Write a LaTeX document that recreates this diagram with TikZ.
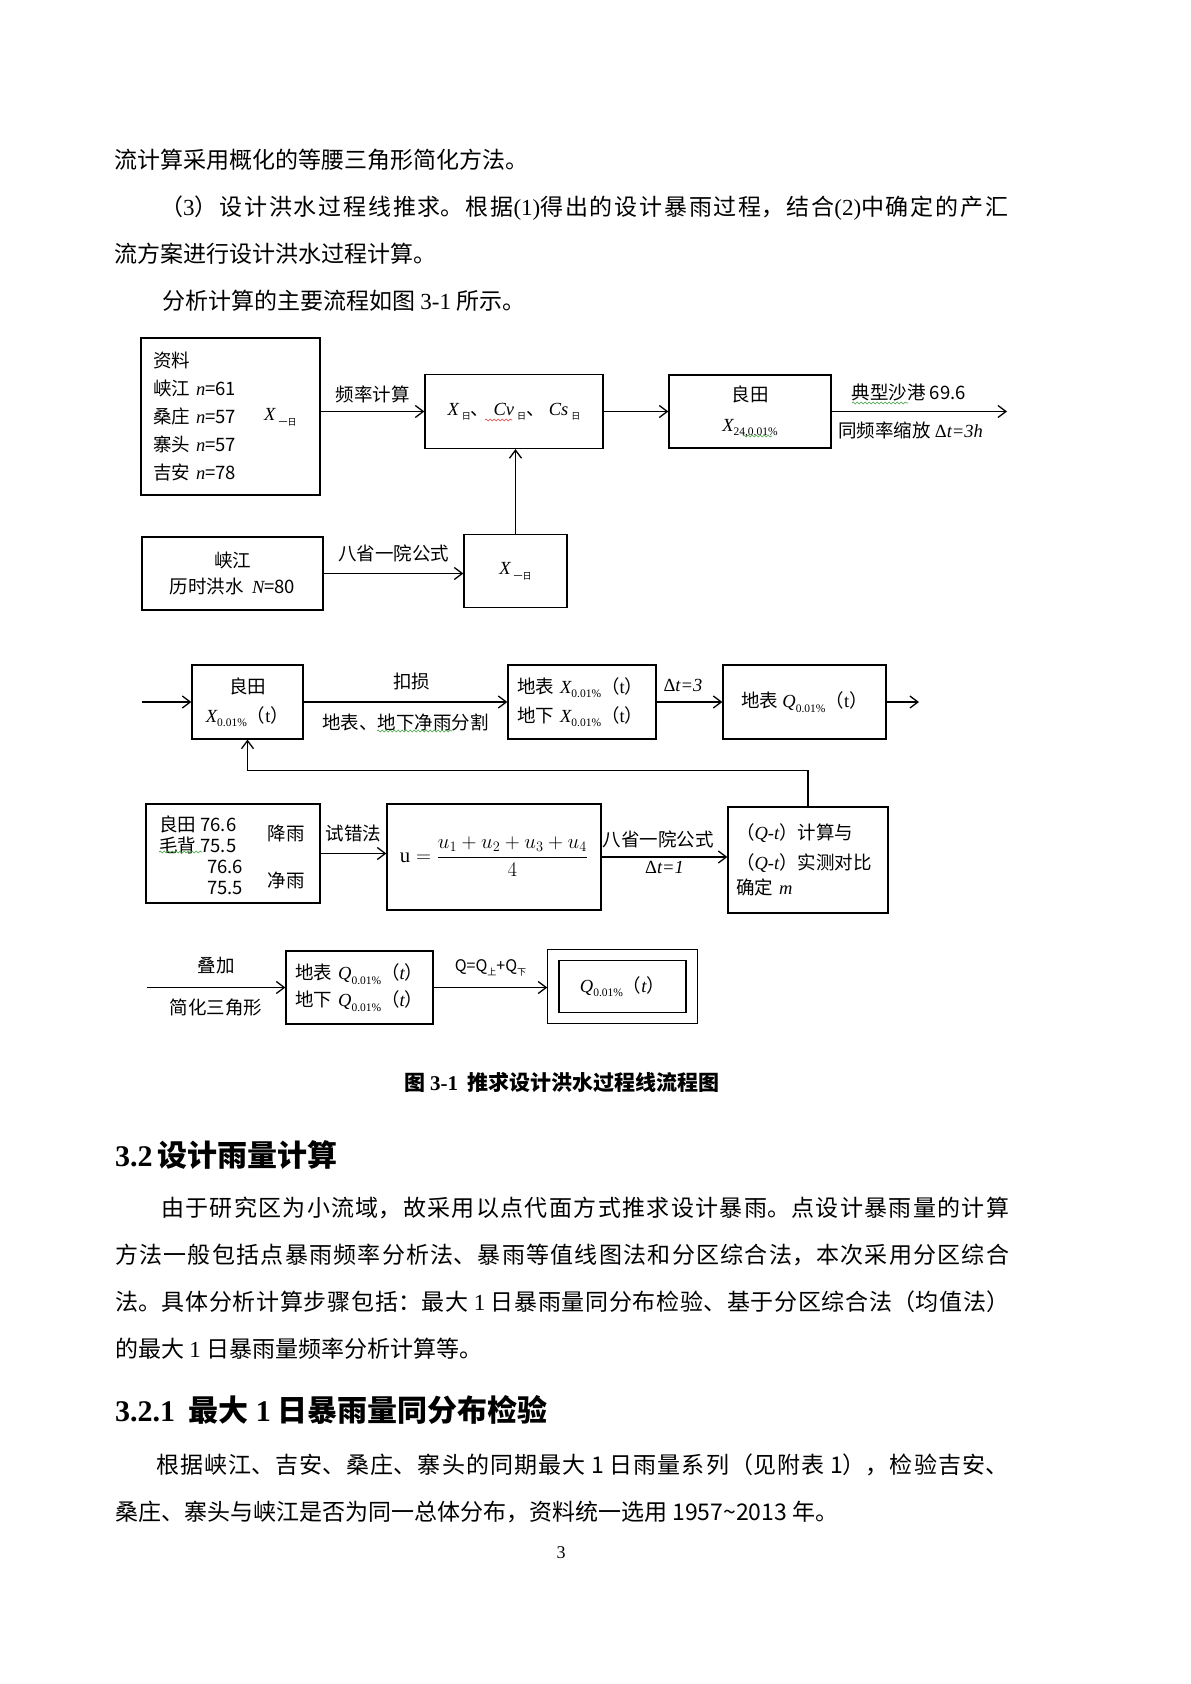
\documentclass[tikz,border=0pt]{standalone}
\usepackage{amsmath}
\usepackage{fontspec}
\setmainfont{Noto Sans CJK SC}
\newfontfamily\tnr{Liberation Serif}
\usetikzlibrary{arrows.meta,positioning,calc,decorations.pathmorphing}
\XeTeXlinebreaklocale "zh"
\XeTeXlinebreakskip=0pt plus 5pt
\definecolor{SpellRed}{HTML}{E03A3A}
\definecolor{SpellGreen}{HTML}{3E9E3E}
\newcommand\dfont{\fontsize{18.5}{28}\selectfont}
\newcommand\bfont{\fontsize{23}{28}\selectfont}
\newcommand\hfont{\fontsize{30}{34}\selectfont\bfseries}
\newcommand\iv[1]{{\tnr\itshape #1}}
\newcommand\subs[1]{\raisebox{-0.45ex}{\tnr\fontsize{11.5}{12}\selectfont #1}}
\newcommand\subc[1]{\raisebox{-0.45ex}{\fontsize{9}{10}\selectfont #1}}
\newcommand\jline[2]{\parbox{#1}{\parfillskip=0pt\relax #2}}
\begin{document}
\begin{tikzpicture}[x=1pt,y=-1pt,
  box/.style={draw,line width=1.3pt,font=\dfont},
  lbl/.style={font=\dfont,inner sep=1pt},
  tight/.style={font=\fontsize{18.5}{20.5}\selectfont},
  arr/.style={-{Straight Barb[length=8pt,width=12pt]},line width=1.3pt},
  txt/.style={anchor=west,inner sep=0pt,font=\bfont},
  squig/.style={decorate,decoration={snake,amplitude=0.9pt,segment length=4pt},line width=0.6pt}]
  \fill[white] (0,0) rectangle (1191,1684);
  \useasboundingbox (0,0) rectangle (1191,1684);
  % text above the figure
  \node[txt] (p1) at (114,160) {流计算采用概化的等腰三角形简化方法。};
  \node[txt] (p2) at (160,208) {\jline{848pt}{（{\tnr 3}）设计洪水过程线推求。根据{\tnr (1)}得出的设计暴雨过程，结合{\tnr (2)}中确定的产汇}};
  \node[txt] (p3) at (114,254) {流方案进行设计洪水过程计算。};
  \node[txt] (p4) at (162,301) {分析计算的主要流程如图 {\tnr 3-1} 所示。};
  % first part
  \node[box,minimum height=157pt,text width=155pt,inner xsep=12pt,align=left] (src) at (230.5,416.5)
    {资料\\峡江 \iv{n}=61\\桑庄 \iv{n}=57\\寨头 \iv{n}=57\\吉安 \iv{n}=78};
  \node[lbl,anchor=west] (srcX) at (263,417) {\iv{X}\,\subc{一日}};
  \node[box,minimum width=178pt,minimum height=74pt] (stat) at (514,411.5)
    {\iv{X}\,\subc{日}、\ \iv{Cv}\,\subc{日}、\ \iv{Cs}\,\subc{日}};
  \node[box,minimum width=162pt,minimum height=73pt,align=center] (lt1) at (750,411.5)
    {良田\\[2pt]\iv{X}\subs{24,0.01\%}};
  \coordinate (out1) at (1007,411.5);
  \node[box,minimum width=181pt,minimum height=73pt,align=center] (xj) at (232.5,573.5)
    {峡江\\[-2pt]历时洪水\ \ \iv{N}=80};
  \node[box,minimum width=103pt,minimum height=73pt] (x1) at (515.5,571) {\iv{X}\,\subc{一日}};
  \draw[arr] (src.east |- stat.west) -- node[lbl,above=6.5pt]{频率计算} (stat.west);
  \draw[arr] (stat) -- (lt1);
  \draw[arr] (lt1.east) -- node[lbl,above=8.5pt,pos=0.44]{典型沙港 69.6}
    node[lbl,below=8.5pt,pos=0.45]{同频率缩放 {\tnr Δ}\iv{t=3h}} (out1);
  \draw[arr] (xj.east) -- node[lbl,above=9.5pt]{八省一院公式} (xj.east -| x1.west);
  \draw[arr] (x1.north) -- (x1.north |- stat.south);
  % second part
  \coordinate (in2) at (142,702);
  \node[box,minimum width=111pt,minimum height=74pt,align=center] (lt2) at (247.5,702)
    {良田\\[1pt]\iv{X}\subs{0.01\%}（{\tnr t}）};
  \node[box,minimum height=74pt,text width=130pt,inner xsep=9pt,align=left] (split) at (582,702)
    {\mbox{地表 \iv{X}\subs{0.01\%}（{\tnr t}）}\\[1pt]\mbox{地下 \iv{X}\subs{0.01\%}（{\tnr t}）}};
  \node[box,minimum width=163pt,minimum height=74pt] (qs) at (804.5,702) {地表 \iv{Q}\subs{0.01\%}（{\tnr t}）};
  \coordinate (out2) at (919,702);
  \draw[arr] (in2) -- (lt2);
  \draw[arr] (lt2) -- node[lbl,above=10pt,pos=0.53]{扣损} node[lbl,below=10pt]{地表、地下净雨分割} (split);
  \draw[arr] (split) -- node[lbl,above=9pt,pos=0.4]{{\tnr Δ}\iv{t=3}} (qs);
  \draw[arr] (qs) -- (out2);
  \node[box,minimum width=174pt,minimum height=99pt] (rain) at (233,853.5) {};
  \node[lbl,tight,anchor=west,align=left] (rainA) at (158,835) {良田 76.6\\毛背 75.5};
  \node[lbl,tight,anchor=west,align=left] (rainB) at (206,877.5) {76.6\\75.5};
  \node[lbl] (rainC) at (286,833) {降雨};
  \node[lbl] (rainD) at (286,880) {净雨};
  \node[box,minimum width=214pt,minimum height=106pt,font=\fontsize{20.74}{24}\selectfont] (avg) at (494,857)
    {$\text{\tnr u}=\dfrac{u_1+u_2+u_3+u_4}{4}$};
  \node[box,minimum height=106pt,text width=144pt,inner xsep=8pt,align=left] (qt) at (808,860)
    {（\iv{Q-t}）计算与\\[2pt]（\iv{Q-t}）实测对比\\[-3pt]确定 \iv{m}};
  \draw[arr] (rain.east) -- node[lbl,above=10pt]{试错法} (rain.east -| avg.west);
  \draw[arr] (avg.east) -- node[lbl,above=7pt,pos=0.45]{八省一院公式}
    node[lbl,below=3pt]{{\tnr Δ}\iv{t=1}} (avg.east -| qt.west);
  \draw[arr] (qt.north) -- ++(0,-36) -| (lt2.south);
  % third part
  \coordinate (in3) at (147,987.5);
  \node[box,minimum height=73pt,text width=129pt,inner xsep=9pt,align=left] (sum) at (359.5,987.5)
    {\mbox{地表 \iv{Q}\subs{0.01\%}（\iv{t}）}\\[-1pt]\mbox{地下 \iv{Q}\subs{0.01\%}（\iv{t}）}};
  \node[box,double,double distance=10pt,minimum width=138.5pt,minimum height=63pt,outer sep=6pt] (res) at (622.5,986.5)
    {\iv{Q}\subs{0.01\%}（\iv{t}）};
  \draw[arr] (in3) -- node[lbl,above=12pt]{叠加} node[lbl,below=9.5pt]{简化三角形} (sum);
  \draw[arr] (sum.east) -- node[lbl,above=10pt,font=\fontsize{16}{18}\selectfont]{Q=Q\subc{上}+Q\subc{下}} (sum.east -| res.west);
  % spell check marks
  \draw[squig,SpellRed] (485,420) -- (512,420);
  \draw[squig,SpellGreen] (852,403) -- (908,403);
  \draw[squig,SpellGreen] (743,436) -- (772,436);
  \draw[squig,SpellGreen] (377,731) -- (452,731);
  \draw[squig,SpellGreen] (159,852) -- (202,852);
  % caption and text below
  \node[font=\fontsize{21}{24}\selectfont\bfseries] (cap) at (562,1082)
    {图 {\tnr\bfseries 3-1}\ \ 推求设计洪水过程线流程图};
  \node[txt,font=\hfont] (h1) at (115,1155) {{\tnr\bfseries 3.2}\,设计雨量计算};
  \node[txt] (l5) at (161,1208) {\jline{848pt}{由于研究区为小流域，故采用以点代面方式推求设计暴雨。点设计暴雨量的计算}};
  \node[txt] (l6) at (115,1255) {\jline{894pt}{方法一般包括点暴雨频率分析法、暴雨等值线图法和分区综合法，本次采用分区综合}};
  \node[txt] (l7) at (115,1302) {\jline{894pt}{法。具体分析计算步骤包括：最大 {\tnr 1} 日暴雨量同分布检验、基于分区综合法（均值法）}};
  \node[txt] (l8) at (115,1349) {的最大 {\tnr 1} 日暴雨量频率分析计算等。};
  \node[txt,font=\hfont] (h2) at (115,1410) {{\tnr\bfseries 3.2.1}\ \ 最大 {\tnr\bfseries 1} 日暴雨量同分布检验};
  \node[txt] (l9) at (156,1465) {\jline{852pt}{根据峡江、吉安、桑庄、寨头的同期最大 1 日雨量系列（见附表 1），检验吉安、}};
  \node[txt] (l10) at (115,1512) {桑庄、寨头与峡江是否为同一总体分布，资料统一选用 1957\textasciitilde2013 年。};
  \node[font=\tnr\fontsize{18}{20}\selectfont] (pg) at (561,1553) {3};
\end{tikzpicture}
\end{document}
